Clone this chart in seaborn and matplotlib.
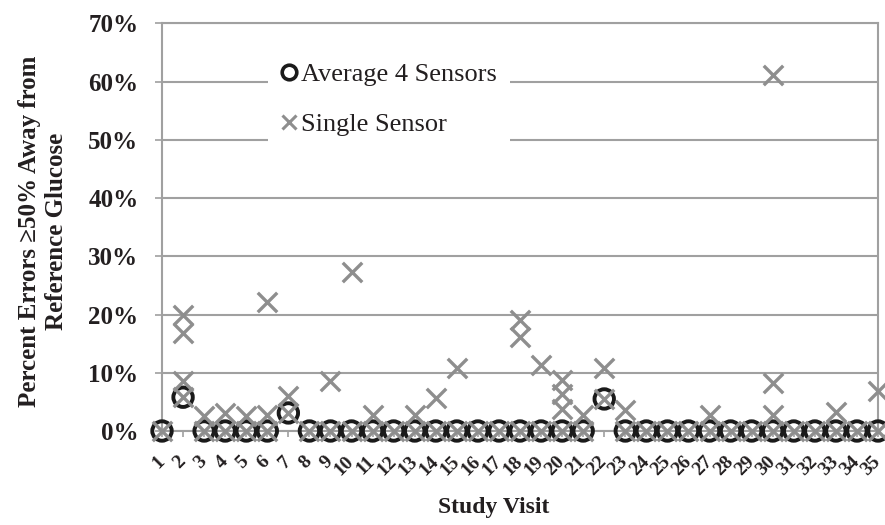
import matplotlib
matplotlib.use("Agg")
import matplotlib.pyplot as plt
import seaborn as sns
from matplotlib.lines import Line2D

# ---- data ----
visits = list(range(1, 36))
avg_values = [0.0, 0.058, 0.0, 0.0, 0.0, 0.0, 0.031, 0.0, 0.0, 0.0,
              0.0, 0.0, 0.0, 0.0, 0.0, 0.0, 0.0, 0.0, 0.0, 0.0,
              0.0, 0.055, 0.0, 0.0, 0.0, 0.0, 0.0, 0.0, 0.0, 0.0,
              0.0, 0.0, 0.0, 0.0, 0.0]

single_visits = [1,
                 2, 2, 2, 2,
                 3, 3, 4, 4, 5, 5,
                 6, 6, 6,
                 7, 7,
                 8, 9, 9, 10, 10, 11, 11, 12, 13, 13, 14, 14, 15, 15, 16, 17,
                 18, 18, 18, 19, 19,
                 20, 20, 20, 20,
                 21, 21, 22, 22, 23, 23, 24, 25, 26, 27, 27, 28, 29,
                 30, 30, 30, 30,
                 31, 32, 33, 33, 34, 35, 35]
single_values = [0.0,
                 0.199, 0.168, 0.086, 0.058,
                 0.026, 0.0, 0.031, 0.0, 0.026, 0.0,
                 0.222, 0.027, 0.0,
                 0.060, 0.031,
                 0.0, 0.085, 0.0, 0.273, 0.0, 0.028, 0.0, 0.0, 0.028, 0.0, 0.057, 0.0, 0.109, 0.0, 0.0, 0.0,
                 0.191, 0.162, 0.0, 0.113, 0.0,
                 0.088, 0.063, 0.038, 0.0,
                 0.028, 0.0, 0.108, 0.055, 0.036, 0.0, 0.0, 0.0, 0.0, 0.028, 0.0, 0.0, 0.0,
                 0.612, 0.083, 0.028, 0.0,
                 0.0, 0.0, 0.033, 0.0, 0.0, 0.068, 0.0]

tick_labels = [str(v) for v in visits]
y_ticks = [0.0, 0.1, 0.2, 0.3, 0.4, 0.5, 0.6, 0.7]
y_tick_labels = ["0%", "10%", "20%", "30%", "40%", "50%", "60%", "70%"]
series_labels = ["Average 4 Sensors", "Single Sensor"]

# ---- style ----
sns.set_theme(style="white")
plt.rcParams['font.family'] = ['Liberation Serif', 'DejaVu Serif']
text_color = "#231f20"
grid_color = "#a0a0a0"
x_color = "#8e8e8e"
circ_color = "#1a1a1a"

fig = plt.figure(figsize=(8.85, 5.25), dpi=100)
ax = fig.add_axes([162 / 885, 1 - 431 / 525, (878 - 162) / 885, (431 - 23.3) / 525])

sns.scatterplot(x=visits, y=avg_values, marker='o', s=14 ** 2, color='none',
                edgecolor=circ_color, linewidth=2.8, clip_on=False, zorder=3,
                ax=ax, legend=False)
sns.scatterplot(x=single_visits, y=single_values, marker='x', s=14 ** 2,
                color=x_color, linewidth=2.4, clip_on=False, zorder=4,
                ax=ax, legend=False)

ax.set_xlim(1, 35)
ax.set_ylim(0, 0.7)
ax.set_yticks(y_ticks)
ax.set_yticklabels(y_tick_labels, fontsize=18, fontweight='bold', color=text_color)
ax.set_xticks(visits)
ax.set_xticklabels(tick_labels, fontsize=14, fontweight='bold', color=text_color,
                   rotation=45, ha='right', va='center', rotation_mode='anchor')
ax.yaxis.grid(True, color=grid_color, linewidth=1.5)
ax.xaxis.grid(False)
ax.set_axisbelow(True)
for sp in ax.spines.values():
    sp.set_visible(True)
    sp.set_color(grid_color)
    sp.set_linewidth(1.5)
ax.tick_params(axis='y', direction='out', length=5, width=1.2, color=grid_color, pad=12, left=True)
ax.tick_params(axis='x', direction='out', length=4, width=1.2, color=grid_color, pad=16, bottom=True)
ax.set_xlabel("")
ax.set_ylabel("")

handles = [
    Line2D([], [], marker='o', ls='', mfc='none', mec=circ_color, mew=2.6, ms=10.5),
    Line2D([], [], marker='x', ls='', color=x_color, mew=2.2, ms=10.5),
]
leg = ax.legend(handles, series_labels, loc='upper left', bbox_to_anchor=(0.148, 0.9355),
                frameon=True, facecolor='white', edgecolor='none', framealpha=1,
                fancybox=False, fontsize=19, handlelength=0.6, handletextpad=0.15,
                labelspacing=1.0, borderpad=0.5, borderaxespad=0)
for t in leg.get_texts():
    t.set_color(text_color)

fig.text(43 / 885, 1 - 231 / 525, "Percent Errors \u226550% Away from\nReference Glucose",
         rotation=90, ha='center', va='center', multialignment='center',
         fontsize=18, fontweight='bold', color=text_color, linespacing=1.2)
fig.text(494 / 885, 1 - 508 / 525, "Study Visit", ha='center', va='center',
         fontsize=17, fontweight='bold', color=text_color)

fig.savefig("out.png", dpi=100)
